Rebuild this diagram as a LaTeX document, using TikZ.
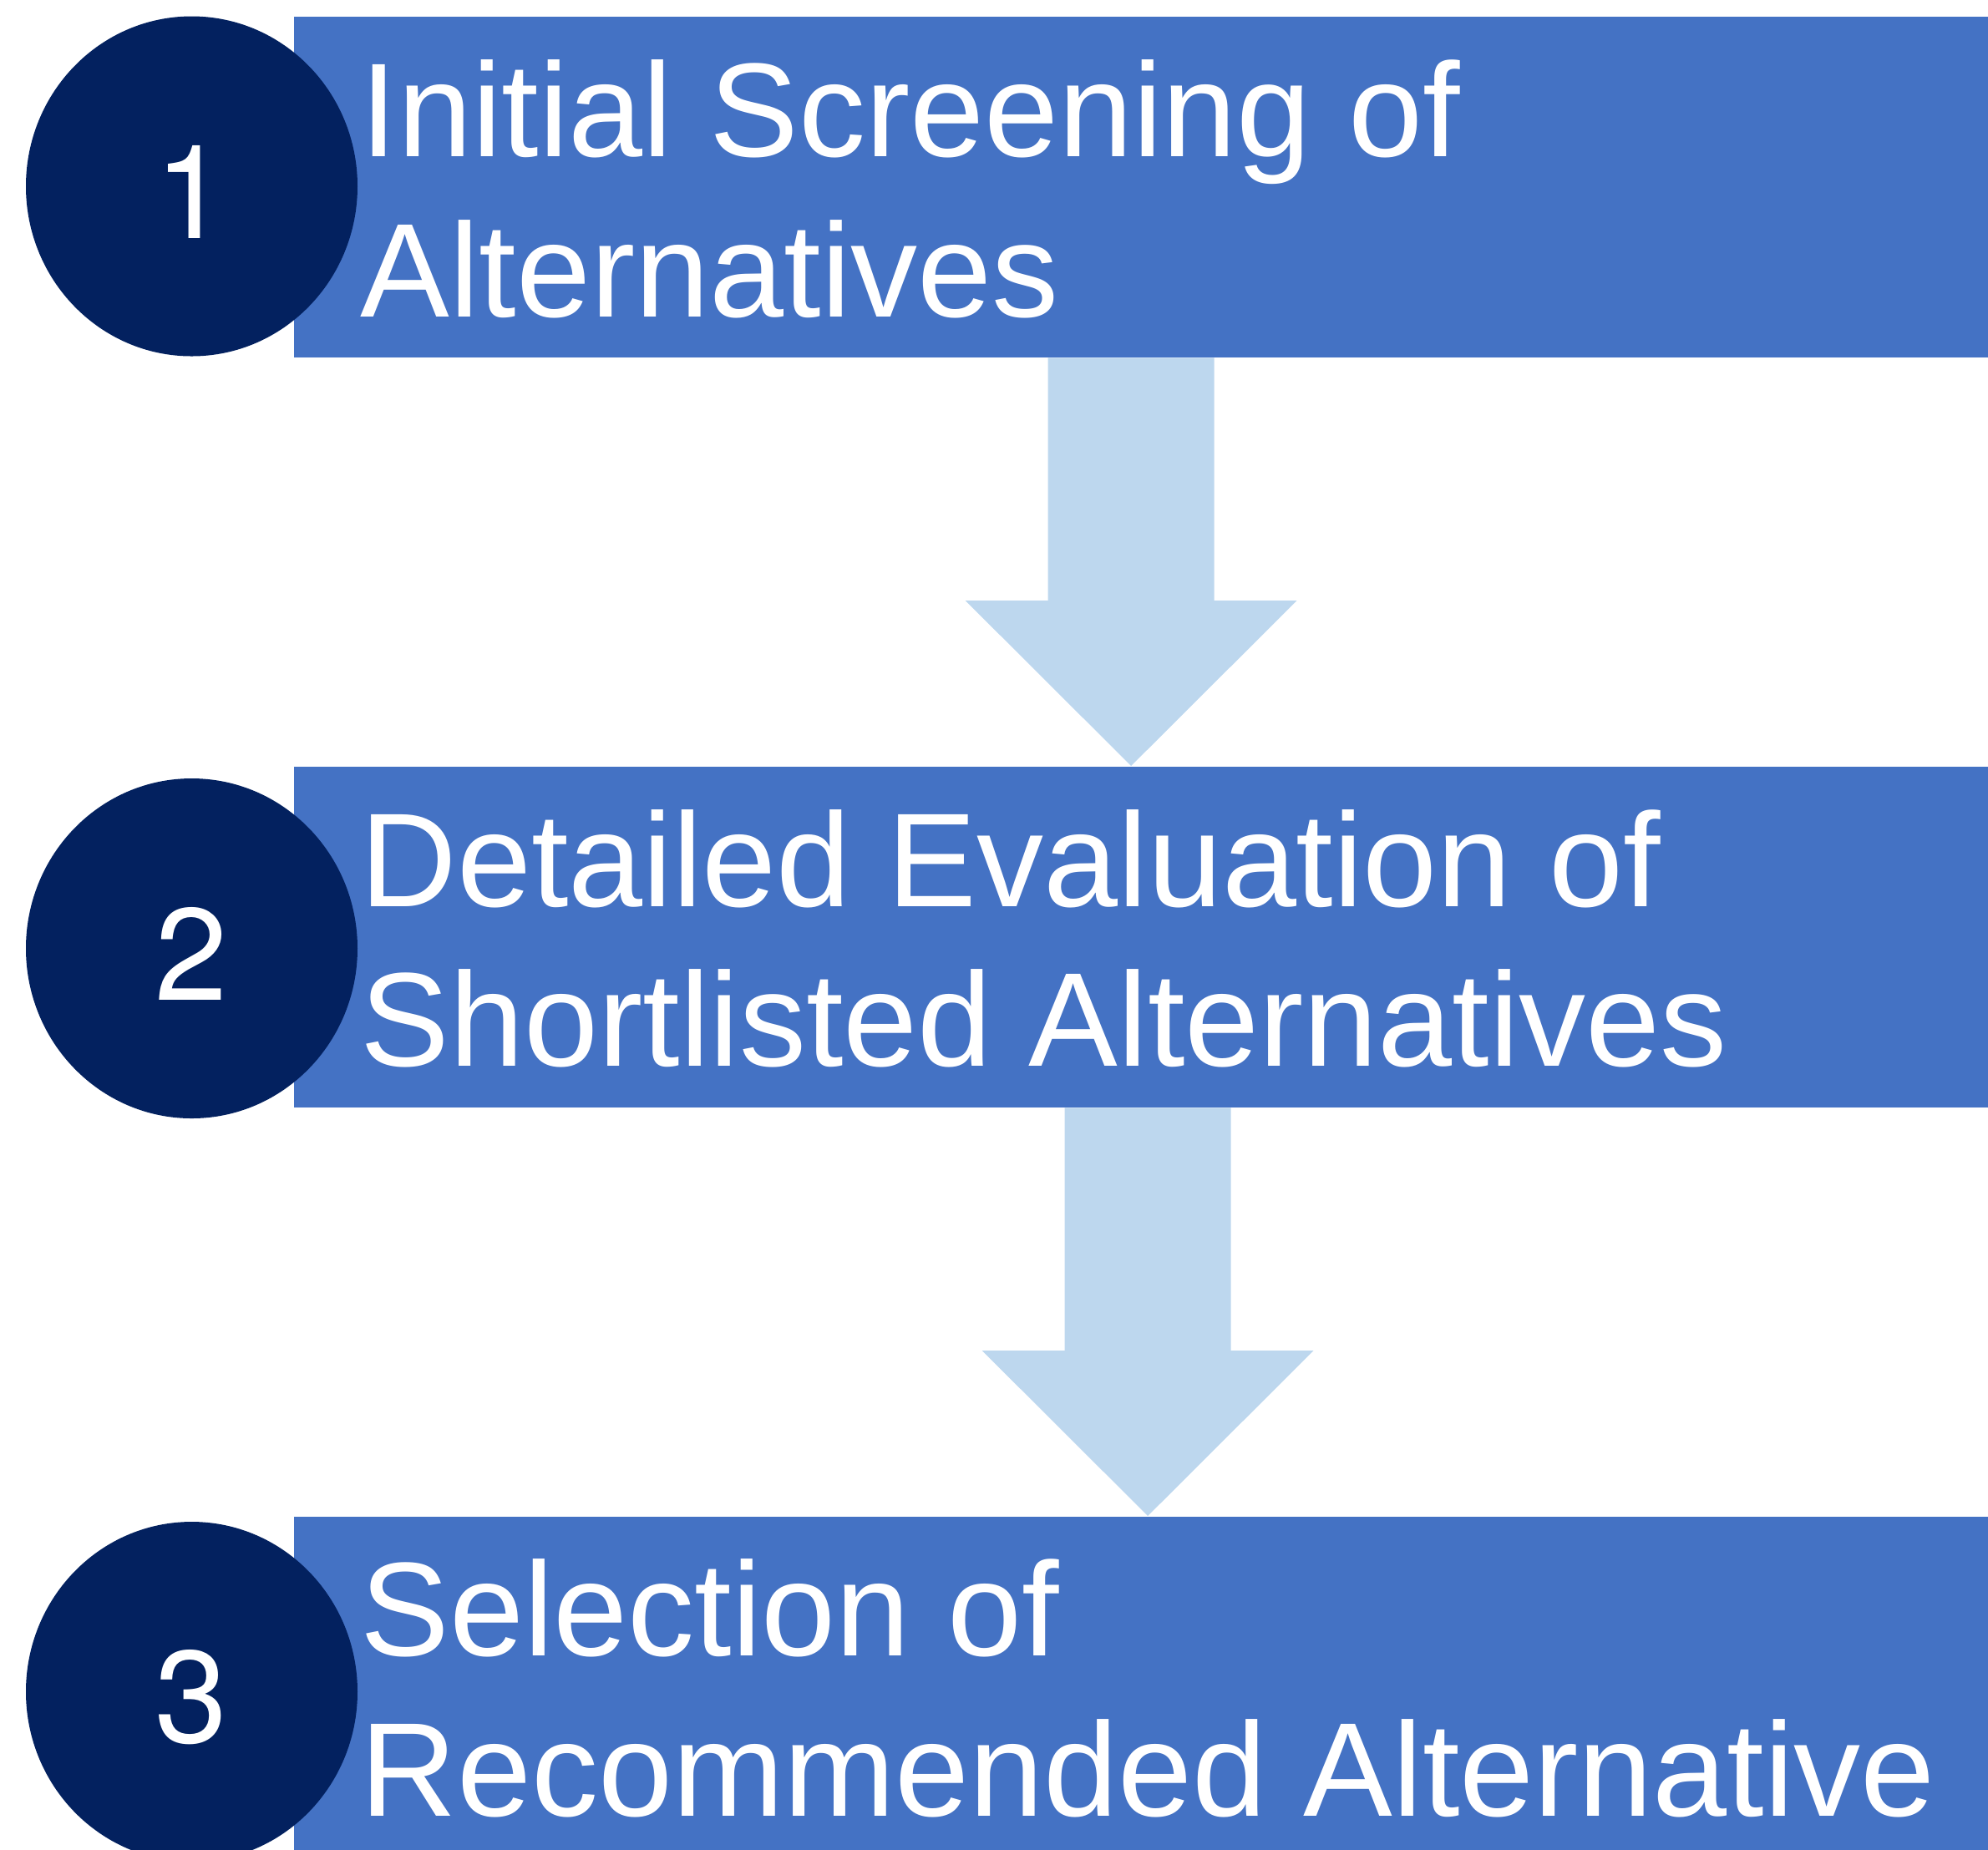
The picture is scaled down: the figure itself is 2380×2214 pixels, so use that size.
\documentclass[tikz,border=0pt]{standalone}
\usepackage{fontspec}
\setmainfont{Liberation Sans}
\newfontfamily\digitfont{TeX Gyre Heros}
\usetikzlibrary{calc,shapes.geometric}

\definecolor{barblue}{HTML}{4472C4}
\definecolor{badgenavy}{HTML}{03215F}
\definecolor{paleblue}{HTML}{BDD7EE}

% block arrow from a tail point (on a bar's bottom) to a tip point
\newcommand{\flowarrow}[2]{%
  \fill[flow] ($(#1)+(-99.5,0)$) -- ($(#2)+(-99.5,-198)$) --
    ($(#2)+(-198.5,-198)$) -- (#2) -- ($(#2)+(198.5,-198)$) --
    ($(#2)+(99.5,-198)$) -- ($(#1)+(99.5,0)$) -- cycle;}

\begin{document}
\begin{tikzpicture}[x=0.3pt,y=-0.3pt,
  bar/.style={rectangle,fill=barblue,anchor=north west,inner sep=0pt,
    minimum width=608.7pt,minimum height=122.4pt},
  badge/.style={ellipse,fill=badgenavy,text=white,inner sep=0pt,
    minimum width=119.1pt,minimum height=122.1pt,text height=37.2pt,
    font=\digitfont\fontsize{47}{56}\selectfont},
  caption/.style={anchor=base west,inner sep=0pt,align=left,text=white,
    font=\fontsize{48}{57.4}\selectfont},
  flow/.style={fill=paleblue}]
  \useasboundingbox (0,0) rectangle (2380,2214);

  \node[bar] (screening) at (351,19) {};
  \node[bar] (evaluation) at (351,917) {};
  \node[bar] (selection) at (351,1815) {};

  \coordinate (tail a) at ($(screening.south)+(-12,0)$);
  \coordinate (tip a) at ($(evaluation.north)+(-12,0)$);
  \coordinate (tail b) at ($(evaluation.south)+(8,0)$);
  \coordinate (tip b) at ($(selection.north)+(8,0)$);
  \flowarrow{tail a}{tip a}
  \flowarrow{tail b}{tip b}

  \node[badge] (one) at (229.5,223) {1};
  \node[badge] (two) at (229.5,1135.5) {2};
  \node[badge] (three) at (229.5,2025.5) {3};

  % base west sits on the second line
  \node[caption] (screening text) at (431,379)
    {Initial Screening of\\Alternatives};
  \node[caption] (evaluation text) at (431,1276.5)
    {Detailed Evaluation of\\Shortlisted Alternatives};
  \node[caption] (selection text) at (431,2174)
    {Selection of\\Recommended Alternative};
\end{tikzpicture}
\end{document}
